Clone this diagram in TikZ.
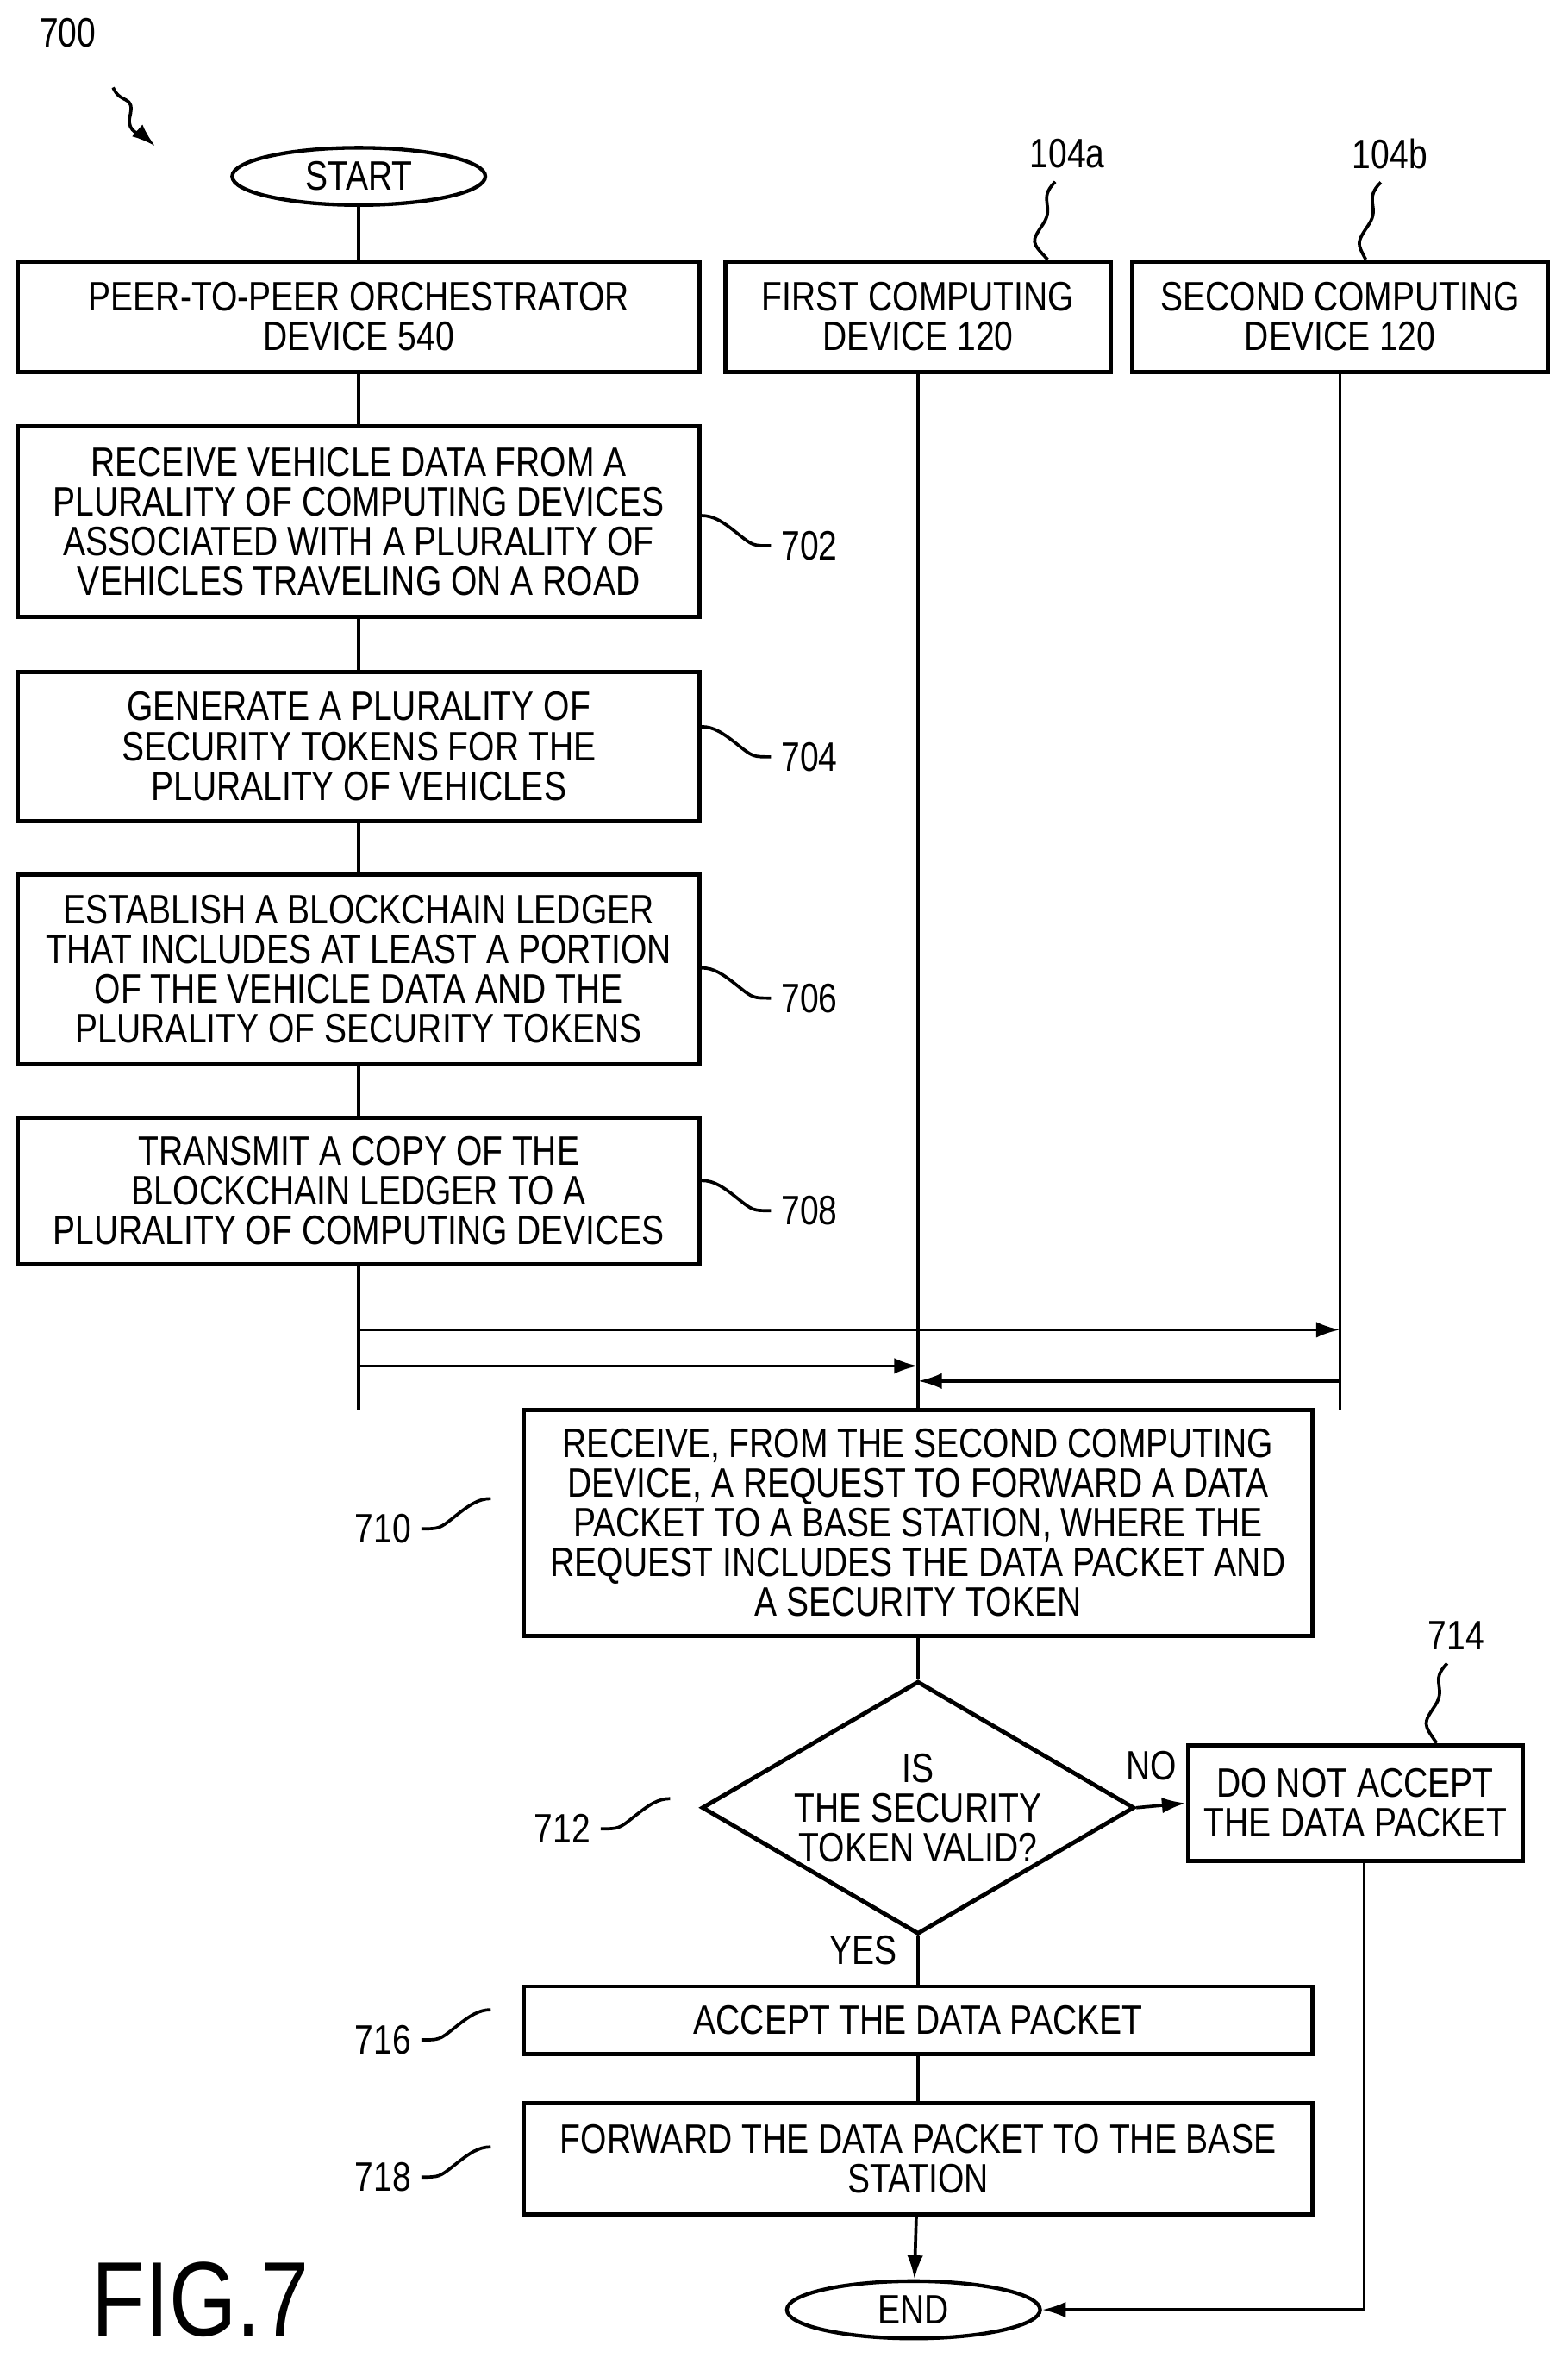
\documentclass[tikz,border=0pt]{standalone}
\usepackage{fontspec}
\setmainfont{Liberation Sans}[FakeStretch=0.82]
\usetikzlibrary{shapes.geometric,arrows.meta}

\begin{document}
\begin{tikzpicture}[x=0.02cm,y=-0.02cm,line width=1.2pt,
  every node/.style={font=\fontsize{15.5}{15}\selectfont},
  box/.style={draw,line width=1.6pt,inner sep=0pt,align=center},
  term/.style={draw,ellipse,line width=1.4pt,minimum width=3.36cm,minimum height=0.76cm,inner sep=0pt},
  lbl/.style={font=\fontsize{15.5}{15}\selectfont},
  arr/.style={-{Latex[length=9pt,width=6pt]}}]
\useasboundingbox (0,0) rectangle (1040,1568);
\def\bx#1#2#3#4#5#6{\node[box,minimum width=#4*0.02cm,minimum height=#5*0.02cm] (#1) at (#2,#3) {#6};}
% header
\node[lbl] (l700) at (45,22) {700};
\draw[arr] (75,58) .. controls (80,70) and (90,62) .. (86,78) .. controls (84,88) and (95,90) .. (103,97);
\node[term] (start) at (238,117) {START};
\bx{orch}{238}{210}{452}{73}{PEER-TO-PEER ORCHESTRATOR\\DEVICE 540}
\bx{dev1}{609}{210}{256}{73}{FIRST COMPUTING\\DEVICE 120}
\bx{dev2}{889}{210}{276}{73}{SECOND COMPUTING\\DEVICE 120}
\node[lbl] (l104a) at (708,102) {104a};
\node[lbl] (l104b) at (922,102) {104b};
\draw (l104a.south) ++(-8,2) .. controls +(-12,12) and +(8,-12) .. ++(-8,28) .. controls +(-8,12) .. (dev1.north -| 695,0);
\draw (l104b.south) ++(-6,2) .. controls +(-12,12) and +(8,-12) .. ++(-8,28) .. controls +(-8,12) .. (dev2.north -| 906,0);
% steps
\bx{s702}{238}{346}{452}{126}{RECEIVE VEHICLE DATA FROM A\\PLURALITY OF COMPUTING DEVICES\\ASSOCIATED WITH A PLURALITY OF\\VEHICLES TRAVELING ON A ROAD}
\bx{s704}{238}{495}{452}{99}{GENERATE A PLURALITY OF\\SECURITY TOKENS FOR THE\\PLURALITY OF VEHICLES}
\bx{s706}{238}{643}{452}{126}{ESTABLISH A BLOCKCHAIN LEDGER\\THAT INCLUDES AT LEAST A PORTION\\OF THE VEHICLE DATA AND THE\\PLURALITY OF SECURITY TOKENS}
\bx{s708}{238}{790}{452}{97}{TRANSMIT A COPY OF THE\\BLOCKCHAIN LEDGER TO A\\PLURALITY OF COMPUTING DEVICES}
\foreach \n/\y in {702/362,704/502,706/662,708/803}{
  \node[lbl] (l\n) at (537,\y) {\n};
  \draw (l\n.west) .. controls +(-12,0) and +(10,8) .. ++(-22,-8) .. controls +(-10,-8) and +(8,0) .. ++(-24,-12);
}
\draw (start) -- (orch) -- (s702) -- (s704) -- (s706) -- (s708);
\coordinate (o1) at (238,935);
\coordinate (d1) at (609,935);
\coordinate (d2) at (889,935);
\draw (s708) -- (o1);
\draw (dev1) -- (d1);
\draw (dev2) -- (d2);
\draw[arr] (238,882) -- (889,882);
\draw[arr] (238,906) -- (609,906);
\draw[arr] (889,916) -- (609,916);
% request handling
\bx{s710}{609}{1010}{523}{150}{RECEIVE, FROM THE SECOND COMPUTING\\DEVICE, A REQUEST TO FORWARD A DATA\\PACKET TO A BASE STATION, WHERE THE\\REQUEST INCLUDES THE DATA PACKET AND\\A SECURITY TOKEN}
\node[draw,diamond,line width=1.6pt,aspect=1.71,minimum width=5.68cm,inner sep=0pt,align=center] (s712) at (609,1199) {IS\\THE SECURITY\\TOKEN VALID?};
\bx{s714}{899}{1196}{222}{77}{DO NOT ACCEPT\\THE DATA PACKET}
\bx{s716}{609}{1340}{523}{45}{ACCEPT THE DATA PACKET}
\bx{s718}{609}{1432}{523}{74}{FORWARD THE DATA PACKET TO THE BASE\\STATION}
\node[term] (end) at (606,1532) {END};
\foreach \n/\y in {710/1014,712/1213,716/1353,718/1444}{
  \node[lbl] (l\n) at (\ifnum\n=712 373\else 254\fi,\y) {\n};
  \draw (l\n.east) .. controls +(12,0) and +(-10,8) .. ++(22,-8) .. controls +(10,-8) and +(-8,0) .. ++(24,-12);
}
\node[lbl] (l714) at (966,1085) {714};
\draw (l714.south) ++(-6,2) .. controls +(-12,12) and +(8,-12) .. ++(-8,28) .. controls +(-8,12) .. (s714.north -| 953,0);
\draw (s710) -- (s712);
\draw[arr] (s712.east) -- node[above,pos=0.3,yshift=6pt] {NO} (s714.west);
\draw (s712.south) -- node[left,pos=0.3,xshift=-4pt] {YES} (s716);
\draw (s716) -- (s718);
\draw[arr] (s718) -- (end);
\draw[arr] (s714.south -| 905,0) -- (905,1532) -- (end.east);
\node[font=\fontsize{40}{40}\selectfont] (fig) at (133,1525) {FIG.7};
\end{tikzpicture}
\end{document}
